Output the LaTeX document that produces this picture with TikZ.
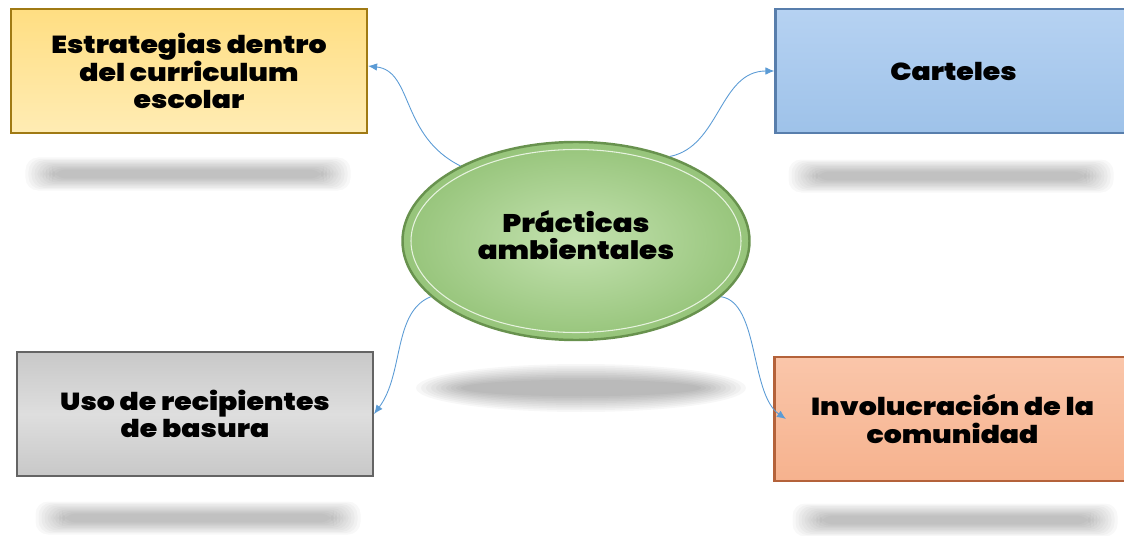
\documentclass[tikz,border=0pt]{standalone}
\usepackage{fontspec}
\usepackage{tikz}
\usetikzlibrary{arrows.meta, shapes.geometric}
\newfontfamily\gruesa{Poppins Black}[FakeStretch=1.15]

\definecolor{amarilloA}{RGB}{255,222,130}
\definecolor{amarilloB}{RGB}{255,236,180}
\definecolor{amarilloBorde}{RGB}{160,122,20}
\definecolor{azulA}{RGB}{182,210,242}
\definecolor{azulB}{RGB}{158,194,233}
\definecolor{azulBorde}{RGB}{88,126,172}
\definecolor{grisA}{RGB}{200,200,200}
\definecolor{grisB}{RGB}{222,222,222}
\definecolor{grisBorde}{RGB}{100,100,100}
\definecolor{naranjaA}{RGB}{250,198,170}
\definecolor{naranjaB}{RGB}{246,178,142}
\definecolor{naranjaBorde}{RGB}{180,98,58}
\definecolor{verdeA}{RGB}{196,226,176}
\definecolor{verdeB}{RGB}{150,196,122}
\definecolor{verdeBorde}{RGB}{104,146,78}
\definecolor{flecha}{RGB}{91,155,213}

\tikzset{
  caja/.style={rectangle, minimum width=7.12cm, minimum height=2.48cm,
    line width=1.2pt, align=center, font=\gruesa\fontsize{14}{15.5}\selectfont},
  conector/.style={draw=flecha, line width=0.5pt, -{Latex[length=1.8mm,width=1.5mm]}}
}

\begin{document}
\begin{tikzpicture}
\useasboundingbox (0,0) rectangle (22.48,10.7);
% Sombras
\foreach \cx/\cy/\w/\h in {3.76/7.22/6.5/0.66, 19.02/7.18/6.5/0.66, 3.96/0.34/6.5/0.66, 19.1/0.3/6.5/0.66} {
  \foreach \k in {0,...,9} {
    \fill[black, opacity=0.028, rounded corners=2.5mm]
      ({\cx-\w/2+\k*0.06},{\cy-\h/2+\k*0.027}) rectangle ({\cx+\w/2-\k*0.06},{\cy+\h/2-\k*0.027});
  }
}
\foreach \k in {0,...,9} {
  \fill[black, opacity=0.032] (11.62,2.94) ellipse ({3.3-\k*0.1} and {0.48-\k*0.035});
}
% Centro
\node (cen) at (11.52,5.88) [ellipse, minimum width=6.94cm, minimum height=3.96cm,
  draw=verdeBorde, line width=1.4pt, inner color=verdeA, outer color=verdeB] {};
\node (aro) at (11.52,5.88) [ellipse, minimum width=6.6cm, minimum height=3.66cm,
  draw=white!60!verdeA, line width=0.6pt] {};
\node (tit) at (11.52,6.0) [align=center, font=\gruesa\fontsize{14.5}{15.5}\selectfont]
  {Prácticas\\ambientales};
% Cajas arriba
\node (est) at (3.78,9.28) [caja, draw=amarilloBorde, top color=amarilloA, bottom color=amarilloB]
  {Estrategias dentro\\del curriculum\\escolar};
\node (car) at (19.07,9.28) [caja, draw=azulBorde, top color=azulA, bottom color=azulB]
  {Carteles};
% Cajas abajo
\node (bas) at (3.9,2.42) [caja, draw=grisBorde, top color=grisA, bottom color=grisA, middle color=grisB]
  {Uso de recipientes\\de basura};
\node (com) at (19.05,2.32) [caja, draw=naranjaBorde, top color=naranjaA, bottom color=naranjaB]
  {Involucración de la\\comunidad};
% Conectores
\draw[conector] (cen.147) .. controls +(-1.2,0.6) and +(0.9,-0.1) .. ([yshift=1mm]est.east);
\draw[conector] (cen.42) .. controls +(1.0,0.2) and +(-1.1,0) .. (car.west);
\draw[conector] (cen.201) .. controls +(-0.76,-0.3) and +(0.6,0.8) .. (bas.east);
\draw[conector] (cen.-21) .. controls +(0.76,-0.12) and +(-0.72,0.5) .. ([xshift=2.5mm]com.west);
\end{tikzpicture}
\end{document}
